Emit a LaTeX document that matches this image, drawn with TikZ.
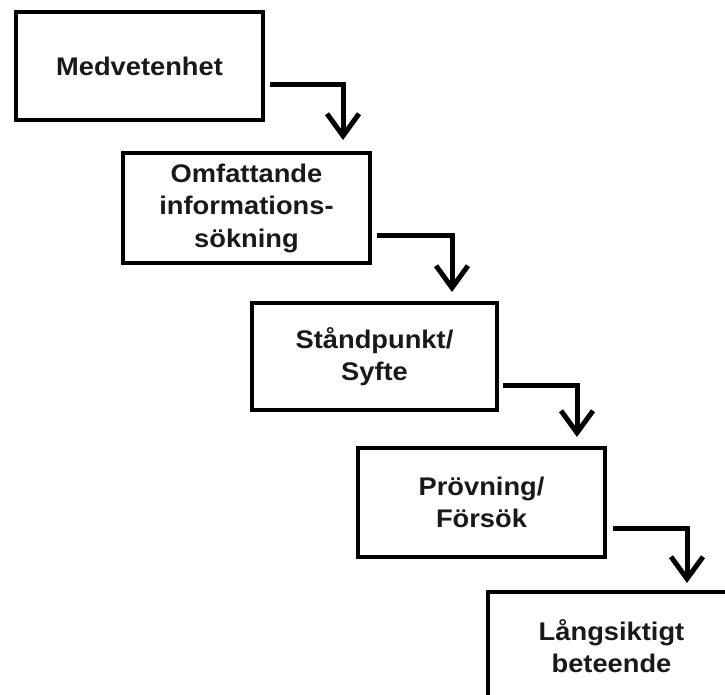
\documentclass[tikz,border=0pt]{standalone}
\usepackage{fontspec}
\setmainfont{Liberation Sans}[FakeStretch=1.07]
\usetikzlibrary{arrows.meta,calc}
\begin{document}
\begin{tikzpicture}[x=1pt,y=1pt,
  stage/.style={draw=black, line width=4pt, fill=white, minimum width=247pt,
    minimum height=108pt, inner sep=0pt, outer sep=0pt, align=center,
    font=\bfseries\fontsize{25.5}{32.5}\selectfont, text=black!90},
  flow/.style={line width=5pt, -{Straight Barb[length=22pt,width=32pt,line width=5pt]}}
]
\useasboundingbox (0,0) rectangle (725,-695);
\clip (0,0) rectangle (725,-695);
\fill[white] (0,0) rectangle (725,-695);
\node[stage] (b1) at (139.5,-66) {Medvetenhet};
\node[stage, minimum height=110pt] (b2) at (246.5,-208) {Omfattande\\informations-\\sökning};
\node[stage, minimum width=245pt, minimum height=107pt] (b3) at (374.5,-356.5) {Ståndpunkt/\\Syfte};
\node[stage, minimum height=109pt] (b4) at (481.5,-502.5) {Prövning/\\Försök};
\node[stage] (b5) at (611.5,-646) {Långsiktigt\\beteende};
\draw[flow] ([shift={(7pt,35pt)}]b1.south east) -| ([shift={(-27pt,13pt)}]b2.north east);
\draw[flow] ([shift={(7pt,28pt)}]b2.south east) -| ([shift={(-45pt,11pt)}]b3.north east);
\draw[flow] ([shift={(6pt,25pt)}]b3.south east) -| ([shift={(-28pt,11pt)}]b4.north east);
\draw[flow] ([shift={(8pt,29pt)}]b4.south east) -| ([shift={(199pt,9pt)}]b5.north west);
\end{tikzpicture}
\end{document}
